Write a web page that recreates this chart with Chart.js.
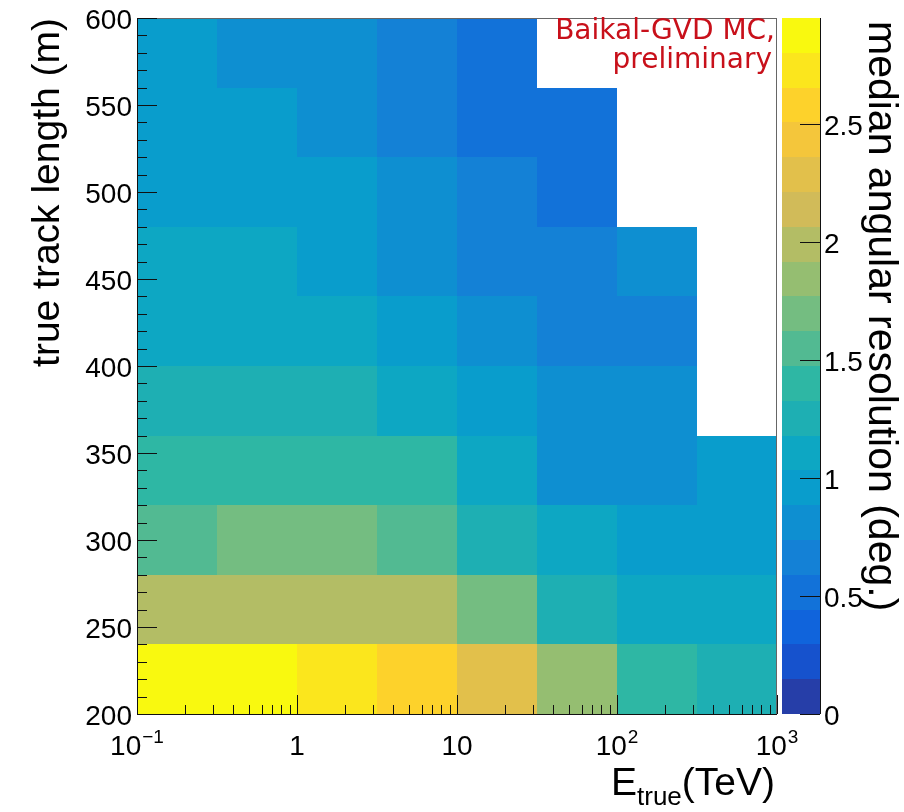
<!DOCTYPE html>
<html>
<head>
<meta charset="utf-8">
<title>Median angular resolution</title>
<script src="https://cdn.jsdelivr.net/npm/chart.js@4.4.1/dist/chart.umd.min.js"></script>
<style>
  html, body { margin: 0; padding: 0; background: #fff; }
  #wrap { width: 904px; height: 812px; }
</style>
</head>
<body>
<div id="wrap"><canvas id="resChart" width="904" height="812"></canvas></div>
<script>
// bin edges: half-decade energy bins (TeV), 40 m length bins
const energyEdges = [0.1, 0.3162, 1, 3.162, 10, 31.62, 100, 316.2, 1000];
const lengthEdges = [200, 240, 280, 320, 360, 400, 440, 480, 520, 560, 600];

// median angular resolution (deg.), one value per energy bin; null = empty bin
const len200 = [2.95, 2.88, 2.74, 2.58, 2.29, 1.83, 1.41, 1.26];
const len240 = [2.01, 1.99, 1.98, 1.96, 1.70, 1.24, 1.12, 1.08];
const len280 = [1.56, 1.66, 1.68, 1.54, 1.27, 1.10, 0.99, 0.97];
const len320 = [1.42, 1.40, 1.38, 1.36, 1.09, 0.84, 0.82, 0.93];
const len360 = [1.29, 1.27, 1.24, 1.13, 0.98, 0.80, 0.79, null];
const len400 = [1.15, 1.13, 1.10, 0.97, 0.83, 0.70, 0.68, null];
const len440 = [1.12, 1.09, 1.01, 0.86, 0.71, 0.67, 0.77, null];
const len480 = [1.00, 0.98, 0.94, 0.82, 0.66, 0.54, null, null];
const len520 = [0.99, 0.95, 0.85, 0.71, 0.57, 0.52, null, null];
const len560 = [0.96, 0.87, 0.84, 0.69, 0.55, null, null, null];
const resolution = [len200, len240, len280, len320, len360, len400, len440, len480, len520, len560];

// axis ticks
const energyTicks = [0.1, 1, 10, 100, 1000];
const energyTickBase = ['10', '1', '10', '10', '10'];
const energyTickExp = ['\u22121', '', '', '2', '3'];
const lengthTicks = [200, 250, 300, 350, 400, 450, 500, 550, 600];
const resTicks = [0, 0.5, 1, 1.5, 2, 2.5];
const resTickLabels = ['0', '0.5', '1', '1.5', '2', '2.5'];

const nContours = 20;
const zMax = Math.max(...resolution.flat().filter(v => v !== null));

// ROOT kBird palette
const birdStops = [0.0000, 0.1250, 0.2500, 0.3750, 0.5000, 0.6250, 0.7500, 0.8750, 1.0000];
const birdRed   = [0.2082, 0.0592, 0.0780, 0.0232, 0.1802, 0.5301, 0.8186, 0.9956, 0.9764];
const birdGreen = [0.1664, 0.3599, 0.5041, 0.6419, 0.7178, 0.7492, 0.7328, 0.7862, 0.9832];
const birdBlue  = [0.5293, 0.8684, 0.8385, 0.7914, 0.6425, 0.4662, 0.3499, 0.1968, 0.0539];

function makePalette(n) {
    const cols = [];
    for (let g = 1; g < birdStops.length; g++) {
        const steps = Math.floor(birdStops[g] * n) - Math.floor(birdStops[g - 1] * n);
        for (let c = 0; c < steps; c++) {
            const f = c / steps;
            const r = birdRed[g - 1] + f * (birdRed[g] - birdRed[g - 1]);
            const gr = birdGreen[g - 1] + f * (birdGreen[g] - birdGreen[g - 1]);
            const b = birdBlue[g - 1] + f * (birdBlue[g] - birdBlue[g - 1]);
            cols.push(`rgb(${Math.round(r * 255)},${Math.round(gr * 255)},${Math.round(b * 255)})`);
        }
    }
    return cols;
}
const palette = makePalette(255);

function contourColor(level) {
    return palette[Math.floor((level + 0.99) * palette.length / nContours)];
}
function levelOf(v) {
    return Math.min(nContours - 1, Math.floor(v / zMax * nContours));
}

const AXIS_FONT = '"Liberation Sans", Arial, Helvetica, sans-serif';

// filled 2D-histogram cells
const heatCells = {
    id: 'heatCells',
    beforeDatasetsDraw(chart) {
        const { ctx, scales: { x, y } } = chart;
        ctx.save();
        resolution.forEach((row, j) => {
            const yTop = Math.round(y.getPixelForValue(lengthEdges[j + 1]));
            const yBot = Math.round(y.getPixelForValue(lengthEdges[j]));
            row.forEach((v, i) => {
                if (v === null) return;
                const xL = Math.round(x.getPixelForValue(energyEdges[i]));
                const xR = Math.round(x.getPixelForValue(energyEdges[i + 1]));
                ctx.fillStyle = contourColor(levelOf(v));
                ctx.fillRect(xL, yTop, xR - xL, yBot - yTop);
            });
        });
        ctx.restore();
    }
};

// frame, ticks, colour scale and titles in ROOT style
const rootAxes = {
    id: 'rootAxes',
    afterDraw(chart) {
        const { ctx, chartArea: a, scales: { x, y, z } } = chart;
        ctx.save();

        // frame
        ctx.strokeStyle = '#666';
        ctx.lineWidth = 1;
        ctx.strokeRect(a.left + 0.5, a.top + 0.5, a.right - a.left - 1, a.bottom - a.top);

        ctx.strokeStyle = '#111';
        ctx.beginPath();
        ctx.moveTo(a.left + 0.5, a.top);
        ctx.lineTo(a.left + 0.5, a.bottom + 0.5);
        ctx.lineTo(a.right, a.bottom + 0.5);
        ctx.stroke();

        // x ticks (log), drawn inward
        ctx.beginPath();
        [0.1, 1, 10, 100].forEach(dec => {
            for (let k = 2; k <= 9; k++) {
                const px = Math.round(x.getPixelForValue(k * dec)) + 0.5;
                ctx.moveTo(px, a.bottom);
                ctx.lineTo(px, a.bottom - 9);
            }
        });
        energyTicks.forEach(v => {
            const px = Math.round(x.getPixelForValue(v)) + 0.5;
            ctx.moveTo(px, a.bottom);
            ctx.lineTo(px, a.bottom - 19);
        });
        // y ticks every 10 m, major every 50 m
        for (let m = 200; m <= 600; m += 10) {
            const py = Math.round(y.getPixelForValue(m)) + 0.5;
            ctx.moveTo(a.left, py);
            ctx.lineTo(a.left + (m % 50 === 0 ? 20 : 10), py);
        }
        ctx.stroke();

        // tick labels
        ctx.fillStyle = '#000';
        ctx.textBaseline = 'alphabetic';
        energyTicks.forEach((v, i) => {
            const px = x.getPixelForValue(v);
            ctx.font = `28px ${AXIS_FONT}`;
            const wb = ctx.measureText(energyTickBase[i]).width;
            ctx.font = `19px ${AXIS_FONT}`;
            const we = energyTickExp[i] ? ctx.measureText(energyTickExp[i]).width + 1 : 0;
            const x0 = px - (wb + we) / 2;
            ctx.font = `28px ${AXIS_FONT}`;
            ctx.textAlign = 'left';
            ctx.fillText(energyTickBase[i], x0, a.bottom + 41);
            if (energyTickExp[i]) {
                ctx.font = `19px ${AXIS_FONT}`;
                ctx.fillText(energyTickExp[i], x0 + wb + 1, a.bottom + 29);
            }
        });
        ctx.font = `28px ${AXIS_FONT}`;
        ctx.textAlign = 'right';
        lengthTicks.forEach(v => {
            ctx.fillText(String(v), a.left - 5, y.getPixelForValue(v) + 11);
        });

        // colour scale
        const barL = 782, barR = 820;
        for (let k = 0; k < nContours; k++) {
            const t = Math.round(z.getPixelForValue((k + 1) * zMax / nContours));
            const b = Math.round(z.getPixelForValue(k * zMax / nContours));
            ctx.fillStyle = contourColor(k);
            ctx.fillRect(barL, t, barR - barL, b - t);
        }
        ctx.strokeStyle = '#111';
        ctx.beginPath();
        ctx.moveTo(barR + 0.5, z.getPixelForValue(zMax));
        ctx.lineTo(barR + 0.5, z.getPixelForValue(0));
        resTicks.forEach(v => {
            const py = Math.round(z.getPixelForValue(v)) + 0.5;
            ctx.moveTo(barR, py);
            ctx.lineTo(barR - 20, py);
        });
        ctx.stroke();
        ctx.fillStyle = '#000';
        ctx.textAlign = 'left';
        resTicks.forEach((v, i) => {
            ctx.fillText(resTickLabels[i], barR + 4, z.getPixelForValue(v) + 11);
        });

        // x title: E_true(TeV), right-aligned to the frame
        ctx.font = `39px ${AXIS_FONT}`;
        const wE = ctx.measureText('E').width;
        const wT = ctx.measureText('(TeV)').width;
        ctx.font = `26px ${AXIS_FONT}`;
        const wSub = ctx.measureText('true').width;
        let tx = a.right - 2 - (wE + wSub + wT);
        ctx.font = `39px ${AXIS_FONT}`;
        ctx.fillText('E', tx, 795);
        ctx.font = `26px ${AXIS_FONT}`;
        ctx.fillText('true', tx + wE, 805);
        ctx.font = `39px ${AXIS_FONT}`;
        ctx.fillText('(TeV)', tx + wE + wSub, 795);

        // y title
        ctx.save();
        ctx.translate(59, a.top);
        ctx.rotate(-Math.PI / 2);
        ctx.textAlign = 'right';
        ctx.font = `39px ${AXIS_FONT}`;
        ctx.fillText('true track length (m)', 0, 0);
        ctx.restore();

        // z title
        ctx.save();
        ctx.translate(869, a.top + 3);
        ctx.rotate(Math.PI / 2);
        ctx.textAlign = 'left';
        ctx.font = `41px ${AXIS_FONT}`;
        ctx.fillText('median angular resolution (deg.)', 0, 0);
        ctx.restore();

        // label
        ctx.fillStyle = '#c8101a';
        ctx.textAlign = 'right';
        ctx.font = '28px "DejaVu Sans", sans-serif';
        ctx.fillText('Baikal-GVD MC,', 775, 39);
        ctx.fillText('preliminary', 772, 68);

        ctx.restore();
    }
};

new Chart(document.getElementById('resChart'), {
    type: 'scatter',
    data: { datasets: [] },
    options: {
        responsive: false,
        animation: false,
        layout: { padding: { left: 137, top: 18, right: 127, bottom: 98 } },
        plugins: { legend: { display: false }, tooltip: { enabled: false } },
        scales: {
            x: { type: 'logarithmic', min: 0.1, max: 1000, display: false },
            y: { type: 'linear', min: 200, max: 600, display: false },
            z: { type: 'linear', position: 'right', min: 0, max: zMax, display: false }
        }
    },
    plugins: [heatCells, rootAxes]
});
</script>
</body>
</html>
